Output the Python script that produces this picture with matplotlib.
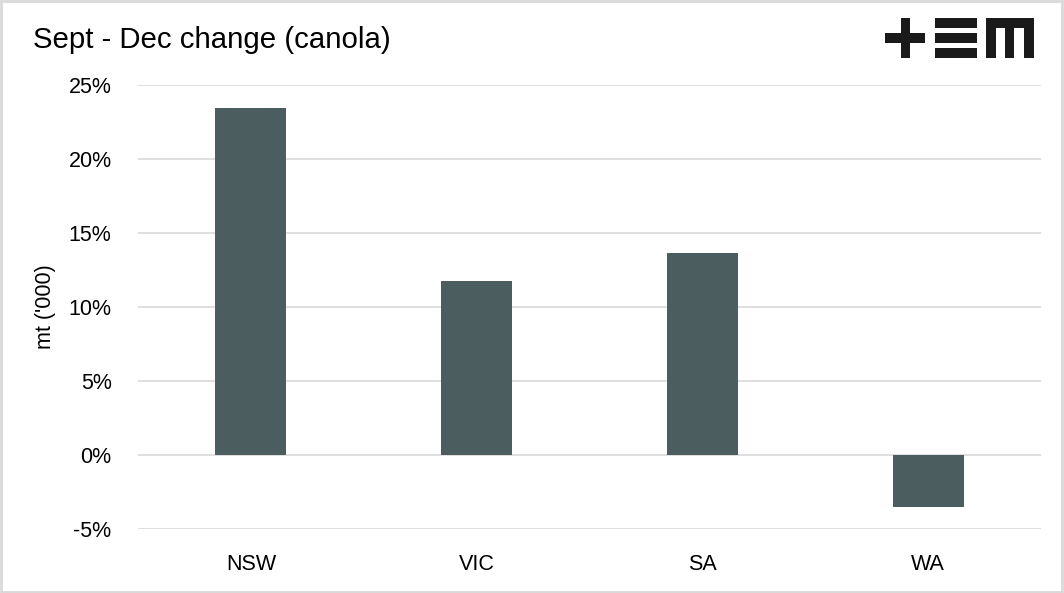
import matplotlib
matplotlib.use("Agg")
import matplotlib.pyplot as plt
from matplotlib.patches import Rectangle
from matplotlib.ticker import FuncFormatter

categories = ["NSW", "VIC", "SA", "WA"]
values = [23.45, 11.76, 13.65, -3.51]
yticks = [-5, 0, 5, 10, 15, 20, 25]

W, H = 1064, 593
fig = plt.figure(figsize=(W / 100, H / 100), dpi=100)
fig.patch.set_facecolor("white")

ax = fig.add_axes([138 / W, 1 - 529 / H, (1041 - 138) / W, (529 - 85) / H])
ax.bar(range(len(categories)), values, width=0.315, color="#4B5D5F", zorder=3)
ax.set_xlim(-0.5, len(categories) - 0.5)
ax.set_ylim(-5, 25)
ax.set_yticks(yticks)
ax.yaxis.set_major_formatter(FuncFormatter(lambda v, p: f"{v:.0f}%"))
ax.set_xticks(range(len(categories)))
ax.set_xticklabels(categories)
ax.grid(axis="y", color="#D9D9D9", linewidth=1.2, zorder=0)
for s in ax.spines.values():
    s.set_visible(False)
ax.tick_params(axis="both", length=0, labelsize=15.5, colors="#000000")
ax.tick_params(axis="y", pad=19)
ax.tick_params(axis="x", pad=18)
for lab in ax.get_xticklabels() + ax.get_yticklabels():
    lab.set_fontfamily("Liberation Sans")

fig.text(46 / W, 1 - 307 / H, "mt ('000)", rotation=90, ha="center", va="center",
         fontsize=15.5, family="Liberation Sans", color="#000000")

fig.text(33 / W, 1 - 48 / H, "Sept - Dec change (canola)", ha="left", va="baseline",
         fontsize=21.2, family="Liberation Sans", color="#000000")

# logo
def rect(x0, y0, x1, y1):
    fig.patches.append(Rectangle((x0 / W, 1 - y1 / H), (x1 - x0) / W, (y1 - y0) / H,
                                 transform=fig.transFigure, color="#1a1a1a", lw=0))

rect(885, 33.5, 925, 43)
rect(900.7, 18.3, 910, 57.7)
rect(935, 18.3, 976.7, 27.7)
rect(935, 33.3, 976.7, 42.7)
rect(935, 47.7, 976.7, 57.7)
rect(986, 18.3, 1034.3, 28.3)
rect(986, 18.3, 996, 57.7)
rect(1005, 18.3, 1014, 57.7)
rect(1024.3, 18.3, 1034.3, 57.7)

# border
fig.patches.append(Rectangle((0.001, 0.002), 0.997, 0.996, transform=fig.transFigure,
                             fill=False, edgecolor="#D9D9D9", lw=2))

fig.savefig("out.png", dpi=100)
